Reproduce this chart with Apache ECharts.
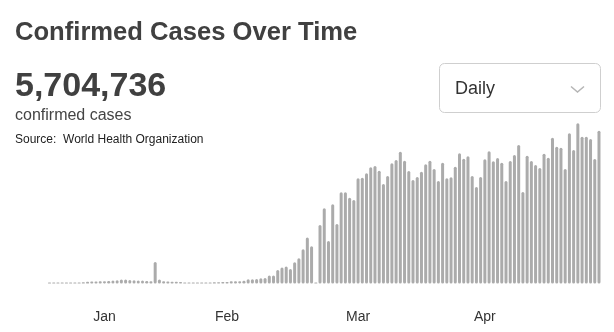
<!DOCTYPE html>
<html>
<head>
<meta charset="utf-8">
<script src="https://cdn.jsdelivr.net/npm/echarts@6/dist/echarts.min.js"></script>
<style>
html,body{margin:0;padding:0;background:#fff;}
#chart{width:614px;height:332px;}
</style>
</head>
<body>
<div id="chart"></div>
<script>
// daily confirmed cases, one bar per day starting 2020-01-19
var startDay = '2020-01-19';
var dailyCases = [
	200, 150, 300, 150, 450, 600, 500, 700, 800,
	1200, 1400, 1400, 1500, 1600, 1750, 2100, 2300,
	2800, 2800, 2450, 2300, 2100, 2100, 1750, 1550,
	15050, 2800, 1550, 1400, 1250, 1250, 1100, 700,
	500, 550, 500, 600, 650, 700, 850, 900,
	1050, 1050, 1550, 1550, 1600, 1900, 3000, 3000,
	3150, 3650, 3850, 5600, 5600, 9450, 11200, 11900,
	10150, 14900, 17700, 24000, 32200, 26100, 350, 41000,
	52600, 29800, 55400, 41700, 63800, 63800, 60100, 58500,
	73600, 74100, 77100, 81300, 82300, 79000, 69700, 75300,
	84100, 86500, 92300, 86000, 78800, 72500, 74600, 78300,
	83400, 86000, 80200, 71800, 84600, 73600, 74300, 81800,
	91100, 87400, 89000, 75300, 67600, 74600, 86900, 92500,
	85500, 87900, 84600, 71800, 85800, 90000, 97000, 64100,
	89500, 85800, 83000, 80900, 90900, 88100, 102100, 95800,
	95100, 80200, 105100, 93500, 112100, 102800, 102800, 101200,
	87200, 107000
];
// tick labels as they appear on the original (placed on these days)
var tickDays = ['2020-02-01', '2020-03-01', '2020-04-01', '2020-05-01'];
var tickLabels = ['Jan', 'Feb', 'Mar', 'Apr'];
var totalText = '5,704,736';

var days = [];
var t0 = Date.parse(startDay + 'T00:00:00Z');
for (var i = 0; i < dailyCases.length; i++) {
	days.push(new Date(t0 + i * 86400000).toISOString().slice(0, 10));
}

var myChart = echarts.init(document.getElementById('chart'), null, {renderer: 'canvas'});
var option = {
	animation: false,
	backgroundColor: '#fff',
	grid: {
		left: 47.4,
		right: 12.9,
		top: 113.5,
		bottom: 48.5
	},
	xAxis: {
		type: 'category',
		data: days,
		boundaryGap: true,
		axisLine: {show: false},
		axisTick: {show: false},
		axisLabel: {
			interval: function(idx, val) {
				return tickDays.indexOf(val) >= 0;
			},
			formatter: function(val) {
				return tickLabels[tickDays.indexOf(val)];
			},
			margin: 27,
			color: '#333',
			fontSize: 14,
			fontFamily: 'Arial, "Liberation Sans", sans-serif'
		}
	},
	yAxis: {
		type: 'value',
		min: 0,
		max: 119000,
		show: false,
		splitLine: {show: false}
	},
	series: [{
		type: 'bar',
		data: dailyCases,
		barWidth: 3,
		barMinHeight: 1,
		itemStyle: {
			color: '#ababab',
			borderRadius: 1.5
		}
	}],
	graphic: [
		{
			type: 'text', x: 15, y: 33,
			style: {
				text: 'Confirmed Cases Over Time',
				font: 'bold 25.6px Arial, "Liberation Sans", sans-serif',
				fill: '#404040',
				verticalAlign: 'middle'
			}
		},
		{
			type: 'text', x: 15, y: 87.1,
			style: {
				text: totalText,
				font: 'bold 34px Arial, "Liberation Sans", sans-serif',
				fill: '#404040',
				verticalAlign: 'middle'
			}
		},
		{
			type: 'text', x: 15, y: 115.9,
			style: {
				text: 'confirmed cases',
				font: '16px Arial, "Liberation Sans", sans-serif',
				fill: '#444',
				verticalAlign: 'middle'
			}
		},
		{
			type: 'text', x: 15, y: 139.4,
			style: {
				text: 'Source:  World Health Organization',
				font: '12px Arial, "Liberation Sans", sans-serif',
				fill: '#222',
				verticalAlign: 'middle'
			}
		},
		{
			type: 'rect',
			shape: {x: 439.5, y: 63.5, width: 161, height: 49, r: 5},
			style: {fill: '#fff', stroke: '#cfcfcf', lineWidth: 1}
		},
		{
			type: 'text', x: 455, y: 89.2,
			style: {
				text: 'Daily',
				font: '18px Arial, "Liberation Sans", sans-serif',
				fill: '#333',
				verticalAlign: 'middle'
			}
		},
		{
			type: 'polyline',
			shape: {points: [[571, 86.5], [577.5, 92], [584, 86.5]]},
			style: {stroke: '#b5b5b5', lineWidth: 1.5, fill: null}
		}
	]
};
myChart.setOption(option, true);
</script>
</body>
</html>
